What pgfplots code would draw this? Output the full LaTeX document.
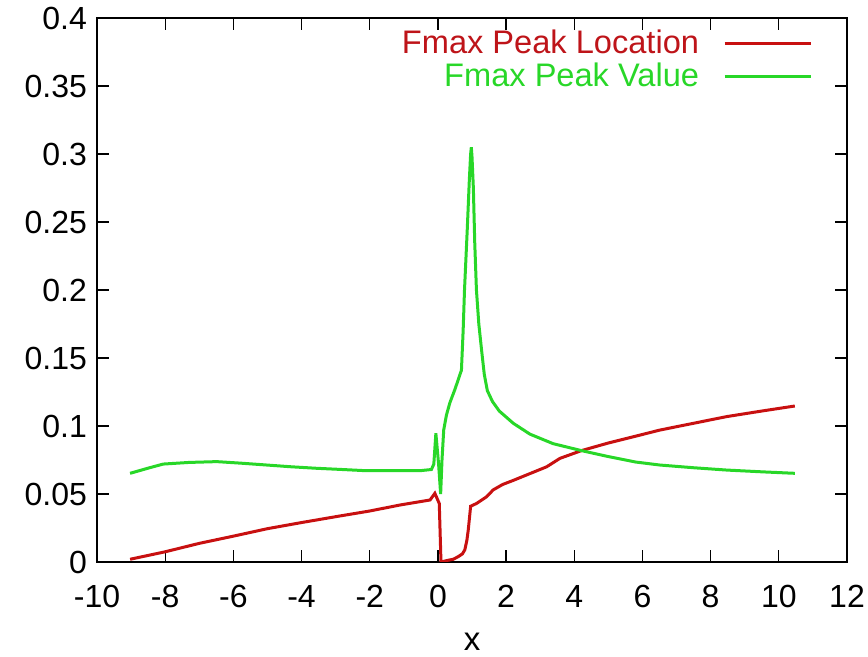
\documentclass[border=0pt]{standalone}
\usepackage{pgfplots}
\pgfplotsset{compat=1.18}
\usepackage{fontspec}
\setmainfont{Liberation Sans}
\definecolor{gred}{RGB}{200,16,16}
\definecolor{ggreen}{RGB}{40,215,40}
\definecolor{gredtext}{RGB}{190,20,25}
\begin{document}
\begin{tikzpicture}
\useasboundingbox (-48.5pt,-47.5pt) rectangle (385.5pt,281pt);
\begin{axis}[
  scale only axis,
  width=375pt, height=272pt,
  xmin=-10, xmax=12, ymin=0, ymax=0.4,
  xtick={-10,-8,...,12},
  ytick={0,0.05,...,0.4},
  yticklabels={0,0.05,0.1,0.15,0.2,0.25,0.3,0.35,0.4},
  xticklabels={-10,-8,-6,-4,-2,0,2,4,6,8,10,12},
  tick align=inside,
  tick pos=both,
  major tick length=6pt,
  axis line style={line width=0.8pt},
  tick style={line width=0.6pt,black},
  every tick label/.append style={font=\fontsize{16}{18}\selectfont},
  xticklabel style={yshift=-8pt},
  yticklabel style={xshift=-1.5pt},
  xlabel={x},
  xlabel style={font=\fontsize{16.5}{18}\selectfont, yshift=-6pt},
  legend cell align=right,
  legend plot pos=right,
  legend style={draw=none, fill=none, at={(0.962,0.993)}, anchor=north east,
    font=\fontsize{16.3}{18}\selectfont, row sep=-1pt,
    /tikz/every odd column/.append style={column sep=10pt}},
  legend image code/.code={\draw[#1] (0pt,0pt) -- (43pt,0pt);},
]
\addplot[gred, line width=1.5pt] coordinates {
(-9.03,0.002) (-8,0.0075) (-7,0.0137) (-6,0.019) (-5,0.0245) (-4,0.0290) (-3,0.0333)
(-2,0.0375) (-1.11,0.0419) (-0.23,0.0456) (-0.09,0.0505) (0.04,0.043) (0.09,0.0)
(0.25,0.001) (0.45,0.002) (0.6,0.004) (0.72,0.006) (0.79,0.009) (0.85,0.016) (0.89,0.0235) (0.96,0.041)
(1.13,0.043) (1.43,0.048) (1.62,0.053) (1.9,0.057) (2.21,0.060) (2.70,0.065) (3.19,0.070)
(3.58,0.0762) (4.21,0.0819) (5,0.0875) (5.8,0.0925) (6.51,0.097) (7.5,0.102) (8.47,0.1069) (9.5,0.111) (10.47,0.1147)
};
\addlegendentry{\textcolor{gredtext}{Fmax Peak Location}}
\addplot[ggreen, line width=1.5pt] coordinates {
(-9.03,0.0652) (-8.5,0.069) (-8.06,0.072) (-7.3,0.0732) (-6.49,0.0738) (-5.8,0.0727) (-5.02,0.0713)
(-4.3,0.0700) (-3.56,0.0689) (-2.8,0.068) (-2.09,0.0671) (-1.11,0.0671) (-0.5,0.0672) (-0.19,0.068) (-0.12,0.072)
(-0.06,0.0946) (0.02,0.072) (0.08,0.050) (0.12,0.075) (0.17,0.097) (0.25,0.108) (0.35,0.117) (0.5,0.127) (0.69,0.141)
(0.74,0.17) (0.78,0.20) (0.86,0.244) (0.92,0.28) (0.96,0.300) (0.98,0.305) (1.0,0.298) (1.04,0.275) (1.08,0.235) (1.13,0.200) (1.2,0.175) (1.28,0.156)
(1.36,0.138) (1.45,0.126) (1.6,0.118) (1.8,0.111) (2.21,0.102) (2.70,0.094) (3.38,0.087) (4.21,0.0819)
(5,0.0775) (5.8,0.0735) (6.51,0.0713) (7.5,0.0693) (8.47,0.0676) (9.5,0.0663) (10.47,0.0652)
};
\addlegendentry{\textcolor{ggreen}{Fmax Peak Value}}
\end{axis}
\end{tikzpicture}
\end{document}
